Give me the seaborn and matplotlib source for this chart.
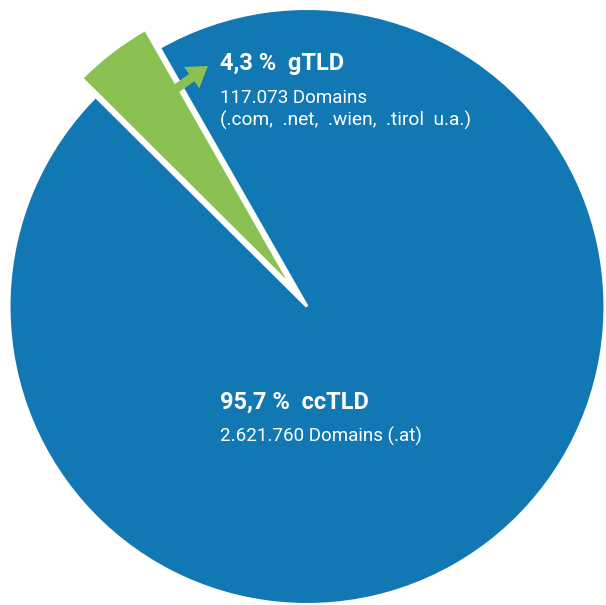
import matplotlib
matplotlib.use("Agg")
import matplotlib.pyplot as plt
import seaborn as sns
from matplotlib.patches import FancyArrow

sns.set_style("white")
plt.rcParams['font.family'] = ['Roboto', 'DejaVu Sans']

labels = ["gTLD", "ccTLD"]
shares = [4.3, 95.7]
domains = ["117.073", "2.621.760"]
details = ["(.com, .net, .wien, .tirol u.a.)", "(.at)"]
colors = ["#8BC152", "#1278B4"]

W, H = 606, 605
fig = plt.figure(figsize=(W / 100, H / 100), dpi=100)
ax = fig.add_axes([0, 0, 1, 1])

ax.pie(shares, colors=colors, startangle=119.7, counterclock=True,
       explode=[23, 0], radius=298, center=(307, 298.5), frame=True,
       wedgeprops=dict(edgecolor="white", linewidth=2.2))
ax.set_xlim(0, W)
ax.set_ylim(0, H)
ax.set_aspect("auto")
ax.axis("off")

ax.add_patch(FancyArrow(163, 507, 45, 32, width=9, head_width=26,
                        head_length=20, length_includes_head=True,
                        color=colors[0], linewidth=0))

fmt = lambda v: f"{v:.1f}".replace(".", ",")
ax.text(220, 535, f"{fmt(shares[0])} %  {labels[0]}", color="white",
        fontsize=17, fontweight="bold", va="baseline")
ax.text(220, 502, f"{domains[0]} Domains", color="white",
        fontsize=13.5, va="baseline")
ax.text(220, 479, details[0].replace(" ", "  "), color="white",
        fontsize=13.8, va="baseline")

ax.text(220, 196, f"{fmt(shares[1])} %  {labels[1]}", color="white",
        fontsize=17, fontweight="bold", va="baseline")
ax.text(220, 163, f"{domains[1]} Domains {details[1]}", color="white",
        fontsize=13.5, va="baseline")

fig.savefig("out.png", dpi=100, facecolor="white")
